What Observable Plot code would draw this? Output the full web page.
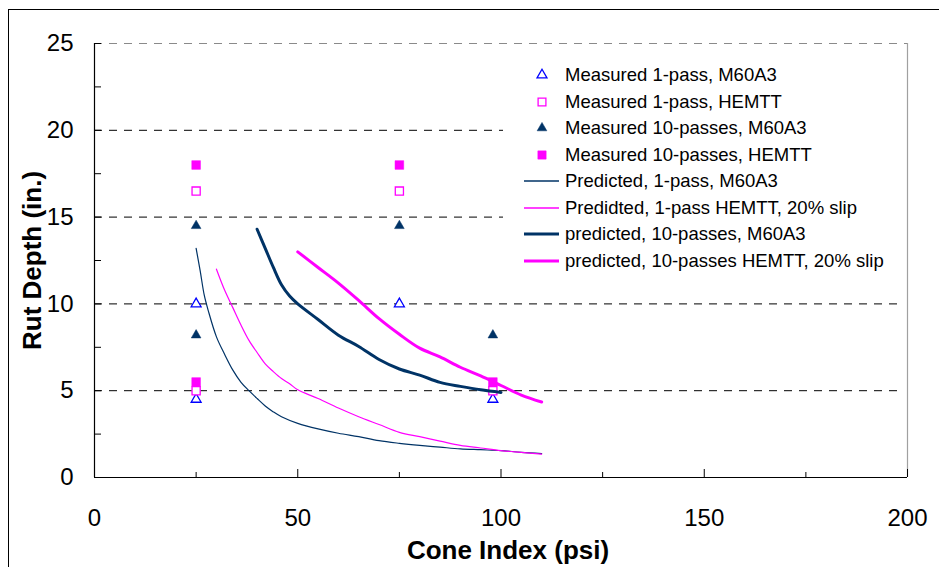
<!DOCTYPE html>
<html><head><meta charset="utf-8">
<script src="https://cdn.jsdelivr.net/npm/d3@7"></script>
<script src="https://cdn.jsdelivr.net/npm/@observablehq/plot@0.6"></script>
<style>
body{margin:0;background:#fff;}
#wrap{position:relative;width:939px;height:567px;overflow:hidden;background:#fff;font-family:"Liberation Sans",Arial,sans-serif;}
#frame{position:absolute;left:8px;top:9px;width:1000px;height:1000px;border-left:1.3px solid #000;border-top:1.3px solid #000;box-sizing:border-box;}
#wrap svg{position:absolute;left:0;top:0;}
</style></head><body>
<div id="wrap"><div id="frame"></div></div>
<script>
// ---- data ----
const measCI = [25, 25, 75, 98];
const meas1M60A3 = [10, 4.5, 10, 4.5];
const meas1HEMTT = [16.5, 5, 16.5, 5];
const meas10M60A3 = [14.5, 8.2, 14.5, 8.2];
const meas10HEMTT = [18, 5.5, 18, 5.5];

const pred1M60A3_ci = [25, 26, 27, 28, 30, 32, 34, 36, 38, 40, 42, 44, 46, 50, 55, 60, 65, 70, 75, 80, 85, 90, 95, 100, 105, 110];
const pred1M60A3_rd = [13.2, 11.9, 10.5, 9.6, 8.1, 7.1, 6.2, 5.5, 5.0, 4.55, 4.12, 3.78, 3.5, 3.12, 2.8, 2.55, 2.35, 2.12, 1.97, 1.85, 1.75, 1.65, 1.6, 1.55, 1.45, 1.38];

const pred1HEMTT_ci = [30, 32, 34, 36, 38, 40, 42, 44, 46, 48, 50, 55, 60, 65, 70, 75, 80, 85, 90, 95, 100, 105, 110];
const pred1HEMTT_rd = [12, 10.8, 9.8, 8.8, 7.9, 7.2, 6.55, 6.1, 5.7, 5.4, 5.05, 4.55, 4.0, 3.5, 3.05, 2.6, 2.35, 2.1, 1.85, 1.7, 1.55, 1.45, 1.35];

const pred10M60A3_ci = [40, 42, 44, 46, 48, 50, 55, 60, 65, 70, 75, 80, 85, 90, 95, 100];
const pred10M60A3_rd = [14.3, 13.2, 12.1, 11.1, 10.45, 10.0, 9.1, 8.2, 7.55, 6.8, 6.25, 5.9, 5.48, 5.25, 5.05, 4.9];

const pred10HEMTT_ci = [50, 55, 60, 65, 70, 75, 80, 85, 90, 95, 100, 105, 110];
const pred10HEMTT_rd = [13, 12.1, 11.2, 10.2, 9.15, 8.25, 7.45, 6.95, 6.35, 5.85, 5.3, 4.75, 4.35];

const yTicks = [0, 2.5, 5, 7.5, 10, 12.5, 15, 17.5, 20, 22.5, 25];
const yLabels = [0, 5, 10, 15, 20, 25];
const xMinor = [25, 75, 125, 175];
const xMajor = [0, 50, 100, 150, 200];
const gridY = [5, 10, 15, 20];

const legendLabels = [
  "Measured 1-pass, M60A3",
  "Measured 1-pass, HEMTT",
  "Measured 10-passes, M60A3",
  "Measured 10-passes, HEMTT",
  "Predicted, 1-pass, M60A3",
  "Predidted, 1-pass HEMTT, 20% slip",
  "predicted, 10-passes, M60A3",
  "predicted, 10-passes HEMTT, 20% slip"
];

// ---- styles ----
const NAVY = "#003366", MAG = "#FF00FF", BLUE = "#0000FF";
const W = 939, H = 567, mL = 94, mR = 32, mT = 43, mB = 90;
const fw = W - mL - mR, fh = H - mT - mB;
const FONT = '"Liberation Sans", Arial, sans-serif';

const zip = (xs, ys) => xs.map((x, i) => ({x, y: ys[i]}));

const plot = Plot.plot({
  width: W, height: H,
  marginLeft: mL, marginRight: mR, marginTop: mT, marginBottom: mB,
  style: {fontFamily: FONT, background: "transparent", color: "#000"},
  x: {domain: [0, 200]},
  y: {domain: [0, 25]},
  marks: [
    Plot.ruleY(gridY, {stroke: "#000", strokeDasharray: "8,7", strokeWidth: 1, insetRight: 6}),
    Plot.ruleY([25], {stroke: "#8a8a8a", strokeDasharray: "8,7", strokeWidth: 1.2}),
    Plot.ruleX([200], {stroke: "#a0a0a0", strokeWidth: 1.2}),
    Plot.ruleX([0], {stroke: "#000", strokeWidth: 1.2}),
    Plot.ruleY([0], {stroke: "#000", strokeWidth: 1.2}),
    Plot.tickY(yTicks, {y: d => d, insetRight: fw - 7, stroke: "#000"}),
    Plot.tickX(xMinor, {x: d => d, insetTop: fh - 5, stroke: "#000"}),
    Plot.tickX(xMajor, {x: d => d, insetTop: fh - 8, stroke: "#000"}),
    Plot.axisY({ticks: yLabels, tickSize: 0, tickPadding: 21, fontSize: 24, label: null}),
    Plot.axisX({ticks: xMajor, tickSize: 0, tickPadding: 31, fontSize: 24, label: null}),
    Plot.text(["Rut Depth (in.)"], {text: d => d, frameAnchor: "left", textAnchor: "middle", lineAnchor: "middle", dx: -62, rotate: -90, fontSize: 26, fontWeight: "bold"}),
    Plot.text(["Cone Index (psi)"], {text: d => d, frameAnchor: "bottom", textAnchor: "middle", lineAnchor: "bottom", dx: 7, dy: 81, fontSize: 26, fontWeight: "bold"}),
    // measured markers
    Plot.dot(zip(measCI, meas1M60A3), {x: "x", y: "y", symbol: "triangle", r: 3.7, stroke: BLUE, fill: "white", strokeWidth: 1.3}),
    Plot.dot(zip(measCI, meas1HEMTT), {x: "x", y: "y", symbol: "square", r: 4.6, stroke: MAG, fill: "white", strokeWidth: 1.3}),
    Plot.dot(zip(measCI, meas10M60A3), {x: "x", y: "y", symbol: "triangle", r: 3.6, fill: NAVY, stroke: NAVY, strokeWidth: 0.5}),
    Plot.dot(zip(measCI, meas10HEMTT), {x: "x", y: "y", symbol: "square", r: 4.9, fill: MAG, stroke: MAG, strokeWidth: 0.5}),
    // predicted lines
    Plot.line(zip(pred1M60A3_ci, pred1M60A3_rd), {x: "x", y: "y", stroke: NAVY, strokeWidth: 1.2, curve: "catmull-rom"}),
    Plot.line(zip(pred1HEMTT_ci, pred1HEMTT_rd), {x: "x", y: "y", stroke: MAG, strokeWidth: 1.2, curve: "catmull-rom"}),
    Plot.line(zip(pred10M60A3_ci, pred10M60A3_rd), {x: "x", y: "y", stroke: NAVY, strokeWidth: 3, curve: "catmull-rom"}),
    Plot.line(zip(pred10HEMTT_ci, pred10HEMTT_rd), {x: "x", y: "y", stroke: MAG, strokeWidth: 3, curve: "catmull-rom"})
  ]
});

// ---- legend ----
const svg = d3.select(plot);
const lg = svg.append("g").attr("font-family", FONT).attr("font-size", 18.5).attr("text-anchor", "start");
lg.append("rect").attr("x", 503).attr("y", 58).attr("width", 399).attr("height", 218).attr("fill", "white");
const lx = 542, tx = 565, by0 = 81, step = 26.5;
const legendStyle = [
  {kind: "sym", sym: d3.symbolTriangle, r: 3.7, fill: "white", stroke: BLUE, sw: 1.3},
  {kind: "sym", sym: d3.symbolSquare, r: 4.4, fill: "white", stroke: MAG, sw: 1.3},
  {kind: "sym", sym: d3.symbolTriangle, r: 3.6, fill: NAVY, stroke: NAVY, sw: 0.5},
  {kind: "sym", sym: d3.symbolSquare, r: 4.7, fill: MAG, stroke: MAG, sw: 0.5},
  {kind: "line", stroke: NAVY, sw: 1.3},
  {kind: "line", stroke: MAG, sw: 1.5},
  {kind: "line", stroke: NAVY, sw: 3},
  {kind: "line", stroke: MAG, sw: 3}
];
legendLabels.forEach((label, i) => {
  const by = by0 + step * i, cy = Math.round(by - 6);
  const s = legendStyle[i];
  if (s.kind === "sym") {
    lg.append("path")
      .attr("d", d3.symbol(s.sym, Math.PI * s.r * s.r)())
      .attr("transform", `translate(${lx},${cy})`)
      .attr("fill", s.fill).attr("stroke", s.stroke).attr("stroke-width", s.sw);
  } else {
    lg.append("line").attr("x1", 524).attr("x2", 559).attr("y1", cy).attr("y2", cy)
      .attr("stroke", s.stroke).attr("stroke-width", s.sw);
  }
  lg.append("text").attr("x", tx).attr("y", by).attr("fill", "#000").text(label);
});

document.getElementById("wrap").appendChild(plot);
</script>
</body></html>
